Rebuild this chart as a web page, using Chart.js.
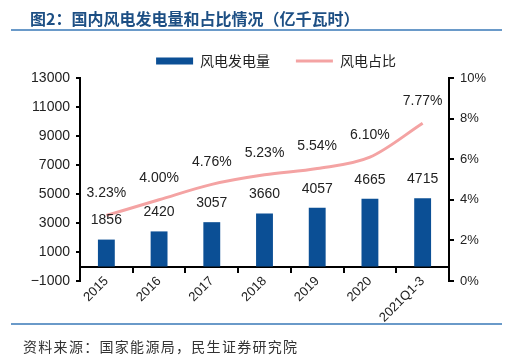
<!DOCTYPE html>
<html>
<head>
<meta charset="utf-8">
<script src="https://cdn.jsdelivr.net/npm/chart.js@4.4.0/dist/chart.umd.min.js"></script>
<style>
  html, body { margin: 0; padding: 0; background: #fff; overflow: hidden; }
  #wrap { position: relative; width: 506px; height: 361px; overflow: hidden; }
  #title { position: absolute; left: 30px; top: 6px; line-height: 20px; font: bold 16px "Noto Sans CJK SC"; color: #1d4f84; white-space: nowrap; }
  .rule { position: absolute; left: 11px; width: 491px; height: 0; border-top: 2px solid #6a9ac9; }
  #source { position: absolute; left: 23px; top: 336px; line-height: 20px; font-size: 14px; font-family: "Noto Sans CJK SC"; letter-spacing: 1.3px; color: #333; white-space: nowrap; }
  canvas { position: absolute; left: 0; top: 0; }
</style>
</head>
<body>
<div id="wrap">
  <canvas id="myChart" width="552" height="361"></canvas>
  <div id="title">图2：国内风电发电量和占比情况（亿千瓦时）</div>
  <div class="rule" style="top:29px"></div>
  <div class="rule" style="top:323px"></div>
  <div id="source">资料来源：国家能源局，民生证券研究院</div>
</div>
<script>
// data
var years = ["2015", "2016", "2017", "2018", "2019", "2020", "2021Q1-3"];
var windPower = [1856, 2420, 3057, 3660, 4057, 4665, 4715];   // 亿千瓦时
var windShare = [3.23, 4.00, 4.76, 5.23, 5.54, 6.10, 7.77];   // %

var leftMin = -1000, leftMax = 13000, leftStep = 2000;
var rightMin = 0, rightMax = 10, rightStep = 2;

var barColor = "#0b4f95";
var lineColor = "#f4a3a3";

// value labels above bars and line points
var valueLabels = {
  id: "valueLabels",
  afterDatasetsDraw: function (chart) {
    var ctx = chart.ctx;
    ctx.save();
    ctx.font = '14px "Liberation Sans"';
    ctx.fillStyle = "#222";
    ctx.textAlign = "center";
    ctx.textBaseline = "middle";
    chart.getDatasetMeta(0).data.forEach(function (bar, i) {
      ctx.fillText(windPower[i], bar.x, bar.y - 19);
    });
    chart.getDatasetMeta(1).data.forEach(function (pt, i) {
      ctx.fillText(windShare[i].toFixed(2) + "%", pt.x, pt.y - 22);
    });
    ctx.restore();
  },
};

new Chart("myChart", {
  type: "bar",
  data: {
    labels: years,
    datasets: [
      {
        label: "风电发电量",
        data: windPower,
        backgroundColor: barColor,
        yAxisID: "y",
        categoryPercentage: 0.8,
        barPercentage: 0.4,
        pointStyle: "rect",
      },
      {
        type: "line",
        label: "风电占比",
        data: windShare,
        borderColor: lineColor,
        backgroundColor: lineColor,
        borderWidth: 3,
        cubicInterpolationMode: "monotone",
        pointRadius: 0,
        pointStyle: "line",
        yAxisID: "y1",
        fill: false,
      },
    ],
  },
  options: {
    responsive: false,
    animation: false,
    layout: { padding: { top: 47, bottom: 80, left: 0, right: 0 } },
    plugins: {
      tooltip: { enabled: false },
      legend: {
        display: true,
        position: "top",
        labels: {
          usePointStyle: true,
          pointStyleWidth: 37,
          boxHeight: 7,
          padding: 7,
          color: "#222",
          font: { family: "Noto Sans CJK SC", size: 14, lineHeight: 1 },
          generateLabels: function (chart) {
            var items = Chart.defaults.plugins.legend.labels.generateLabels(chart);
            items[0].text += "      ";
            return items;
          },
        },
      },
    },
    scales: {
      x: {
        position: { y: 0 },
        offset: true,
        grid: { drawOnChartArea: false, drawTicks: true, tickLength: 5, color: "#000", lineWidth: 2, offset: true },
        border: { color: "#000", width: 2 },
        ticks: {
          autoSkip: false,
          minRotation: 45,
          maxRotation: 45,
          padding: 2,
          color: "#222",
          font: { family: "Liberation Sans", size: 13 },
        },
      },
      y: {
        position: "left",
        min: leftMin,
        max: leftMax,
        grid: { drawOnChartArea: false, tickLength: 4, color: "#000", lineWidth: 2 },
        border: { color: "#000", width: 2 },
        ticks: {
          stepSize: leftStep,
          padding: 6,
          color: "#222",
          font: { family: "Liberation Sans", size: 14 },
          callback: function (v) { return v < 0 ? "\u2212" + Math.abs(v) : v; },
        },
        afterFit: function (s) { s.width = 80; },
      },
      y1: {
        position: "right",
        min: rightMin,
        max: rightMax,
        grid: { drawOnChartArea: false, tickLength: 5, color: "#000", lineWidth: 2 },
        border: { color: "#000", width: 2 },
        ticks: {
          stepSize: rightStep,
          padding: 6,
          color: "#222",
          font: { family: "Liberation Sans", size: 13 },
          callback: function (v) { return v + "%"; },
        },
        afterFit: function (s) { s.width = 103; },
      },
    },
  },
  plugins: [valueLabels],
});
</script>
</body>
</html>
